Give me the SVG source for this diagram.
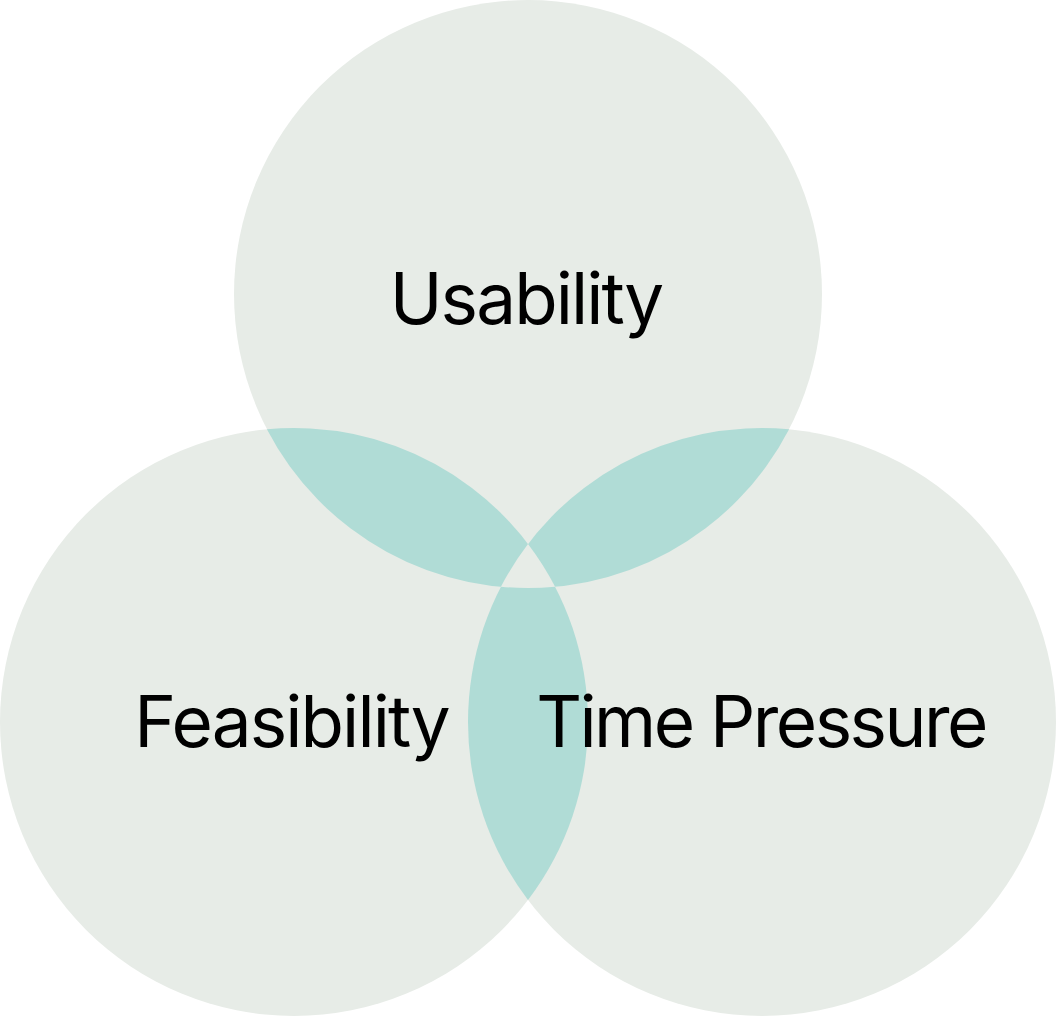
<svg xmlns="http://www.w3.org/2000/svg" width="1056" height="1016" viewBox="0 0 1056 1016">
<style>
.c{fill:#e7ece7}
.o{fill:#b0dcd6}
.t{font-family:Inter,"Liberation Sans",sans-serif;font-size:71px;letter-spacing:-1.9px;fill:#000;text-anchor:middle}
.tp{letter-spacing:-2.55px}
</style>
<rect width="1056" height="1016" fill="#ffffff"/>
<g id="usability-circle"><circle class="c" cx="528" cy="294" r="294"/></g>
<g id="feasibility-circle"><circle class="c" cx="294" cy="722" r="294"/></g>
<g id="time-pressure-circle"><circle class="c" cx="762" cy="722" r="294"/></g>
<g id="overlaps">
<path class="o" d="M266.9,429.2 A294,294 0 0 1 555.1,586.8 A294,294 0 0 1 266.9,429.2 Z"/>
<path class="o" d="M500.9,586.8 A294,294 0 0 0 789.1,429.2 A294,294 0 0 0 500.9,586.8 Z"/>
<path class="o" d="M528,544 A294,294 0 0 0 528,900 A294,294 0 0 0 528,544 Z"/>
<path class="c" d="M528,544 A294,294 0 0 1 555.1,586.8 A294,294 0 0 1 500.9,586.8 A294,294 0 0 1 528,544 Z"/>
</g>
<g id="usability"><text class="t" x="526" y="324">Usability</text></g>
<g id="feasibility"><text class="t" x="291.5" y="747">Feasibility</text></g>
<g id="time-pressure"><text class="t tp" x="761" y="747">Time Pressure</text></g>
</svg>
